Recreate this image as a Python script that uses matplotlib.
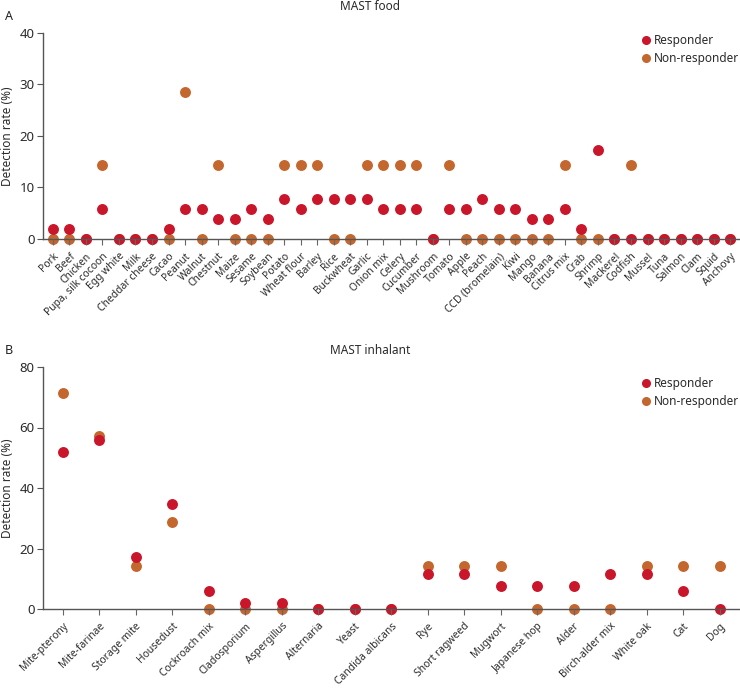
import matplotlib
matplotlib.use("Agg")
import matplotlib.pyplot as plt
from matplotlib.lines import Line2D

plt.rcParams['font.family'] = ['Noto Sans', 'DejaVu Sans']

food_labels = ["Pork", "Beef", "Chicken", "Pupa, silk cocoon", "Egg white", "Milk",
               "Cheddar cheese", "Cacao", "Peanut", "Walnut", "Chestnut", "Maize",
               "Sesame", "Soybean", "Potato", "Wheat flour", "Barley", "Rice",
               "Buckwheat", "Garlic", "Onion mix", "Celery", "Cucumber", "Mushroom",
               "Tomato", "Apple", "Peach", "CCD (bromelain)", "Kiwi", "Mango", "Banana",
               "Citrus mix", "Crab", "Shrimp", "Mackerel", "Codfish", "Mussel", "Tuna",
               "Salmon", "Clam", "Squid", "Anchovy"]
food_resp = [1.9, 1.9, 0, 5.8, 0, 0, 0, 1.9, 5.8, 5.8, 3.8, 3.8, 5.8, 3.8, 7.7, 5.8,
             7.7, 7.7, 7.7, 7.7, 5.8, 5.8, 5.8, 0, 5.8, 5.8, 7.7, 5.8, 5.8, 3.8, 3.8,
             5.8, 1.9, 17.3, 0, 0, 0, 0, 0, 0, 0, 0]
food_nonresp = [0, 0, 0, 14.3, 0, 0, 0, 0, 28.6, 0, 14.3, 0, 0, 0, 14.3, 14.3,
                14.3, 0, 0, 14.3, 14.3, 14.3, 14.3, 0, 14.3, 0, 0, 0, 0, 0, 0,
                14.3, 0, 0, 0, 14.3, 0, 0, 0, 0, 0, 0]

inh_labels = ["Mite-pterony", "Mite-farinae", "Storage mite", "Housedust",
              "Cockroach mix", "Cladosporium", "Aspergillus", "Alternaria", "Yeast",
              "Candida albicans", "Rye", "Short ragweed", "Mugwort", "Japanese hop",
              "Alder", "Birch-alder mix", "White oak", "Cat", "Dog"]
inh_resp = [51.9, 55.8, 17.3, 34.6, 5.8, 1.9, 1.9, 0, 0, 0, 11.5, 11.5, 7.7, 7.7,
            7.7, 11.5, 11.5, 5.8, 0]
inh_nonresp = [71.4, 57.1, 14.3, 28.6, 0, 0, 0, 0, 0, 0, 14.3, 14.3, 14.3, 0, 0, 0,
               14.3, 14.3, 14.3]

RED = "#C9162B"
ORANGE = "#C4672F"
TXT = "#2b2b2b"
AX = "#555555"

fig = plt.figure(figsize=(7.4, 6.91), dpi=100)
W, H = 740, 691

def make_ax(left, right, top, bottom):
    return fig.add_axes([left / W, 1 - bottom / H, (right - left) / W, (bottom - top) / H])

def style(ax, labels, resp, nonresp, ymax, step, xl, title, tag, title_y, tag_y):
    x = list(range(len(labels)))
    ax.set_axisbelow(False)
    ax.scatter(x, nonresp, s=62, color=ORANGE, zorder=2.0, clip_on=False, linewidths=0)
    ax.scatter(x, resp, s=62, color=RED, zorder=2.1, clip_on=False, linewidths=0)
    ax.set_xlim(*xl)
    ax.set_ylim(0, ymax)
    ax.set_yticks(range(0, ymax + 1, step))
    ax.set_xticks(x)
    ax.set_xticklabels(labels, rotation=45, ha='right', rotation_mode='anchor',
                       fontsize=7.4, color=TXT)
    for s in ['top', 'right']:
        ax.spines[s].set_visible(False)
    for s in ['left', 'bottom']:
        ax.spines[s].set_color(AX)
        ax.spines[s].set_linewidth(1.0)
    ax.tick_params(axis='x', length=4, color='#666666', pad=4.5)
    ax.tick_params(axis='y', length=4, color=AX, labelsize=9.5, labelcolor=TXT, pad=2)
    ax.set_ylabel("Detection rate (%)", fontsize=8.5, color=TXT, labelpad=4)
    fig.text(0.5, 1 - title_y / H, title, ha='center', va='center', fontsize=8.5, color=TXT)
    fig.text(5 / W, 1 - tag_y / H, tag, ha='left', va='center', fontsize=9,
             fontweight='bold', color='#222222')
    handles = [Line2D([], [], marker='o', linestyle='', color=RED, markersize=5.5, label='Responder'),
               Line2D([], [], marker='o', linestyle='', color=ORANGE, markersize=5.5, label='Non-responder')]
    leg = ax.legend(handles=handles, loc='upper left', frameon=False, fontsize=8.5,
                    bbox_to_anchor=(634 / W, 1 - (title_y + 22) / H),
                    bbox_transform=fig.transFigure, handletextpad=0.1,
                    labelspacing=0.45, handlelength=1.2, borderaxespad=0)
    for t in leg.get_texts():
        t.set_color(TXT)

axA = make_ax(43, 740, 33, 239)
style(axA, food_labels, food_resp, food_nonresp, 40, 10, (-0.6, 41.6),
      "MAST food", "A", 7, 17)

axB = make_ax(43, 740, 367, 609)
style(axB, inh_labels, inh_resp, inh_nonresp, 80, 20, (-0.54, 18.55),
      "MAST inhalant", "B", 350, 350)

fig.savefig("out.png", dpi=100)
